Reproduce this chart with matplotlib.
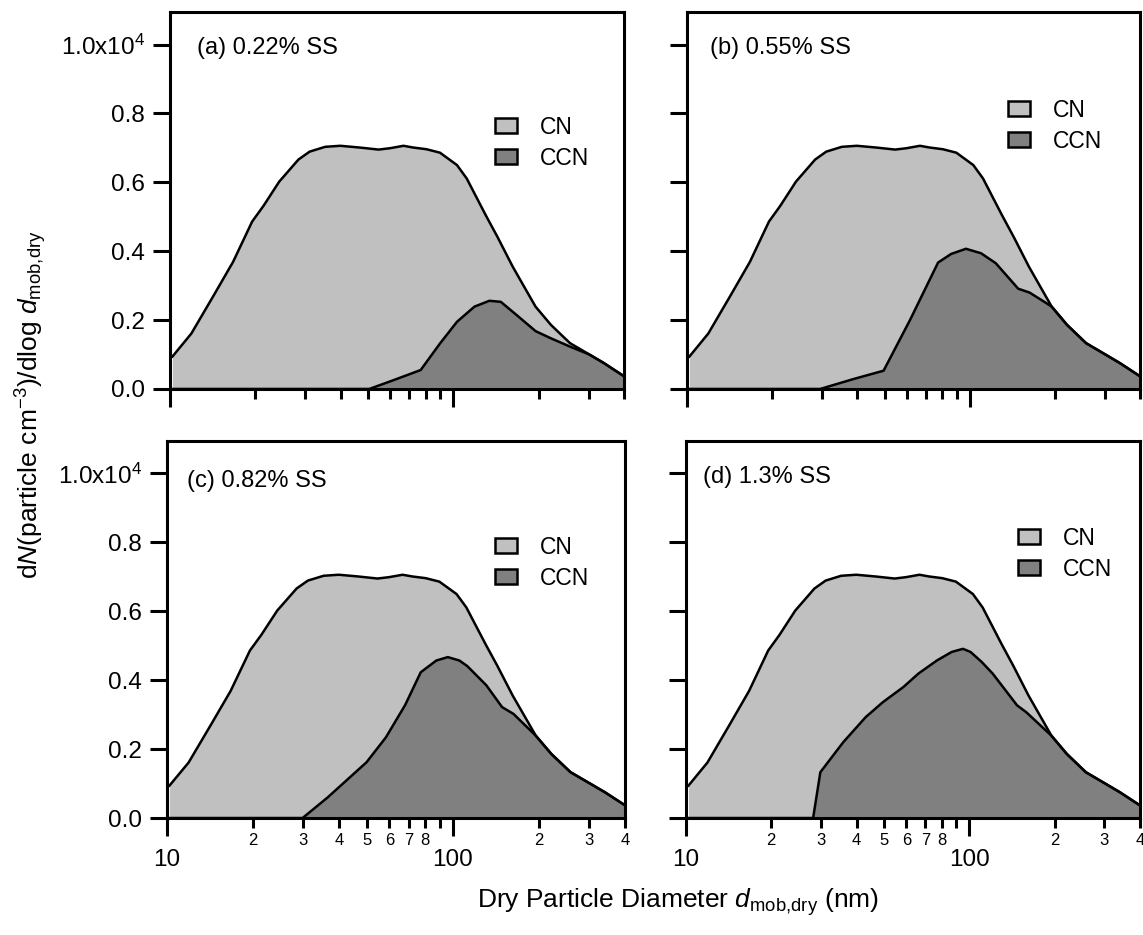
import matplotlib.pyplot as plt
from matplotlib.patches import Patch
from matplotlib.ticker import FixedLocator, FixedFormatter, NullFormatter

plt.rcParams['font.family'] = ['Liberation Sans', 'DejaVu Sans']
plt.rcParams['mathtext.fontset'] = 'custom'
plt.rcParams['mathtext.rm'] = 'Liberation Sans'
plt.rcParams['mathtext.it'] = 'Liberation Sans:italic'

# total particle (CN) size distribution, same in all four panels
cn_diam = [10.2, 11.9, 14.3, 16.7, 19.5, 21.4, 24.3, 28.4, 31.1, 35.3, 39.9, 46.6,
           54.5, 59.8, 66.7, 72.1, 80.4, 89.7, 103, 111.5, 130, 143, 162, 195,
           221, 258, 302, 340, 400]
cn_conc = [940, 1610, 2730, 3690, 4860, 5320, 6020, 6660, 6890, 7030, 7060, 7010,
           6950, 6990, 7060, 7010, 6960, 6860, 6500, 6110, 5050, 4420, 3550, 2390,
           1860, 1330, 1000, 750, 370]

# CCN distributions at each supersaturation
ccn_a_diam = [10.2, 50.5, 61.7, 76.7, 89.7, 103, 118.7, 134, 147, 167, 195, 221,
              258, 302, 340, 400]
ccn_a_conc = [0, 0, 260, 550, 1320, 1950, 2390, 2560, 2530, 2150, 1680, 1470,
              1230, 1000, 750, 370]

ccn_b_diam = [10.2, 29.6, 38.9, 49.6, 61.5, 77.3, 86, 97, 109.7, 123.7, 148.5,
              162.7, 183.6, 195, 221, 258, 302, 340, 400]
ccn_b_conc = [0, 0, 290, 530, 2000, 3670, 3920, 4070, 3940, 3650, 2910,
              2800, 2530, 2390, 1860, 1330, 1000, 750, 370]

ccn_c_diam = [10.2, 29.8, 36.5, 49.9, 58.3, 68.1, 77.2, 87.5, 96, 105.4, 112.3,
              131, 148.6, 163, 195, 221, 258, 302, 340, 400]
ccn_c_conc = [0, 0, 600, 1620, 2340, 3280, 4230, 4570, 4670, 4570, 4410,
              3850, 3220, 3020, 2390, 1860, 1330, 1000, 750, 370]

ccn_d_diam = [10.2, 28.1, 29.8, 35.9, 43.1, 49.5, 58.5, 66.1, 76.8, 86.7, 95, 101,
              110.6, 121, 147.5, 159, 195, 221, 258, 302, 340, 400]
ccn_d_conc = [0, 0, 1330, 2200, 2930, 3360, 3800, 4190, 4570, 4820, 4910, 4820,
              4530, 4190, 3270, 3070, 2390, 1860, 1330, 1000, 750, 370]

titles = ['(a) 0.22% SS', '(b) 0.55% SS', '(c) 0.82% SS', '(d) 1.3% SS']
ccn_diams = [ccn_a_diam, ccn_b_diam, ccn_c_diam, ccn_d_diam]
ccn_concs = [ccn_a_conc, ccn_b_conc, ccn_c_conc, ccn_d_conc]

y_ticks = [0, 2000, 4000, 6000, 8000, 10000]
y_labels = ['0.0', '0.2', '0.4', '0.6', '0.8', '1.0x10$^{4}$']
minor_ticks = [20, 30, 40, 50, 60, 70, 80, 90, 200, 300, 400]
minor_labels = ['2', '3', '4', '5', '6', '7', '8', '', '2', '3', '4']

CN_COLOR = '#c0c0c0'
CCN_COLOR = '#808080'

fig = plt.figure(figsize=(11.43, 9.35), dpi=100)

rects = [[0.1487, 0.584, 0.3972, 0.403],
         [0.601, 0.584, 0.3963, 0.403],
         [0.1461, 0.1251, 0.4007, 0.4032],
         [0.6002, 0.1251, 0.397, 0.4032]]
title_pos = [(0.06, 0.905), (0.052, 0.905), (0.044, 0.893), (0.037, 0.904)]
legend_pos = [(0.716, 0.725), (0.709, 0.77), (0.716, 0.749), (0.731, 0.773)]

for i in range(4):
    ax = fig.add_axes(rects[i])
    ax.fill_between(cn_diam, cn_conc, 0, color=CN_COLOR, lw=0)
    ax.plot(cn_diam, cn_conc, color='black', lw=1.8)
    ax.fill_between(ccn_diams[i], ccn_concs[i], 0, color=CCN_COLOR, lw=0)
    ax.plot(ccn_diams[i], ccn_concs[i], color='black', lw=1.8)

    ax.set_xscale('log')
    ax.set_xlim(10, 400)
    ax.set_ylim(0, 10940)

    ax.xaxis.set_major_locator(FixedLocator([10, 100]))
    ax.xaxis.set_minor_locator(FixedLocator(minor_ticks))
    ax.yaxis.set_major_locator(FixedLocator(y_ticks))
    if i >= 2:
        ax.xaxis.set_major_formatter(FixedFormatter(['10', '100']))
        ax.xaxis.set_minor_formatter(FixedFormatter(minor_labels))
    else:
        ax.xaxis.set_major_formatter(NullFormatter())
        ax.xaxis.set_minor_formatter(NullFormatter())
    if i % 2 == 0:
        ax.yaxis.set_major_formatter(FixedFormatter(y_labels))
    else:
        ax.yaxis.set_major_formatter(NullFormatter())

    ax.tick_params(axis='x', which='major', direction='out', length=13, width=2.2,
                   pad=9, labelsize=17.5)
    ax.tick_params(axis='x', which='minor', direction='out', length=7.5, width=2.2,
                   pad=3, labelsize=12)
    ax.tick_params(axis='y', which='major', direction='out', length=12, width=2.2,
                   pad=6, labelsize=17.5)
    for s in ax.spines.values():
        s.set_linewidth(2.2)

    ax.text(title_pos[i][0], title_pos[i][1], titles[i], transform=ax.transAxes,
            fontsize=17, va='center')

    handles = [Patch(facecolor=CN_COLOR, edgecolor='black', lw=1.8),
               Patch(facecolor=CCN_COLOR, edgecolor='black', lw=1.8)]
    ax.legend(handles, ['CN', 'CCN'], loc='upper left', bbox_to_anchor=legend_pos[i],
              frameon=False, fontsize=16.5, handlelength=0.95, handleheight=0.6,
              handletextpad=1.0, labelspacing=0.35, borderaxespad=0, borderpad=0)

fig.text(0.593, 0.035, 'Dry Particle Diameter $d_{\\mathrm{mob{,}dry}}$ (nm)',
         ha='center', va='center', fontsize=19)
fig.text(0.027, 0.567, 'd$N$(particle cm$^{-3}$)/dlog $d_{\\mathrm{mob{,}dry}}$',
         ha='center', va='center', rotation=90, fontsize=19)

fig.savefig('out.png', dpi=100)
